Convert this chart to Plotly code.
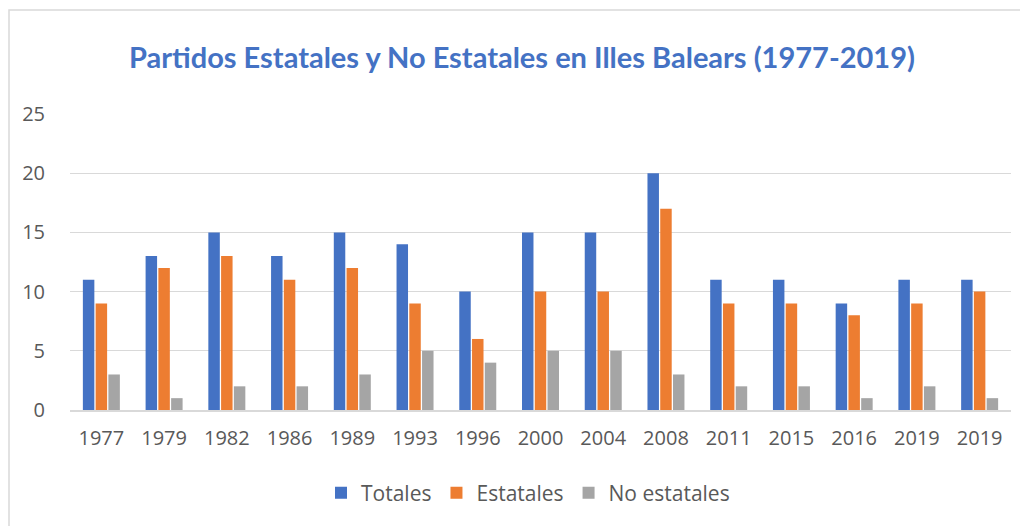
import plotly.graph_objects as go

years = ["1977", "1979", "1982", "1986", "1989", "1993", "1996", "2000",
         "2004", "2008", "2011", "2015", "2016", "2019", "2019"]
totales = [11, 13, 15, 13, 15, 14, 10, 15, 15, 20, 11, 11, 9, 11, 11]
estatales = [9, 12, 13, 11, 12, 9, 6, 10, 10, 17, 9, 9, 8, 9, 10]
no_estatales = [3, 1, 2, 2, 3, 5, 4, 5, 5, 3, 2, 2, 1, 2, 1]

# "2019" aparece dos veces: posiciones numéricas para no fusionar categorías
pos = list(range(len(years)))

W, H = 1028, 526
OFF = 8  # margen del body en la página
L, R, T, B = 70 - OFF, 1028 + OFF - 1011, 114 - OFF, 526 - (410 - OFF)
pw, ph = W - L - R, H - T - B

fig = go.Figure()
for name, vals, color in [
    ("Totales", totales, "#4472C4"),
    ("Estatales", estatales, "#ED7D31"),
    ("No estatales", no_estatales, "#A5A5A5"),
]:
    fig.add_trace(go.Bar(x=pos, y=vals, name=name,
                         marker=dict(color=color, line=dict(width=0))))

# marco exterior del gráfico
fig.add_shape(type="rect", xref="paper", yref="paper",
              x0=(1 - L) / pw, x1=(W + 5 - L) / pw,
              y0=(H - B - (H + 5)) / ph, y1=(H - B - (10 - OFF)) / ph,
              line=dict(color="#D9D9D9", width=1.5), fillcolor="rgba(0,0,0,0)")

fig.update_layout(
    width=W, height=H,
    margin=dict(l=L, r=R, t=T, b=B),
    paper_bgcolor="white", plot_bgcolor="white",
    barmode="group", bargap=0.39, bargroupgap=0.1,
    font=dict(family="Open Sans, sans-serif", color="#595959", size=20),
    title=dict(text="<b>Partidos Estatales y No Estatales en Illes Balears (1977-2019)</b>",
               x=(522 - OFF) / W, xanchor="center", y=1 - (58 - OFF) / H, yanchor="middle",
               font=dict(family="Lato, sans-serif", size=29, color="#4472C4")),
    xaxis=dict(tickvals=pos, ticktext=years, range=[-0.5, len(years) - 0.5],
               showgrid=False, showline=True, linecolor="#D9D9D9", linewidth=1.5,
               ticks="", ticklabelstandoff=9, tickfont=dict(size=20)),
    yaxis=dict(range=[0, 25], dtick=5, showgrid=True, gridcolor="#D9D9D9",
               gridwidth=1.2, zeroline=False, showline=False,
               ticklabelstandoff=24, tickfont=dict(size=20)),
    legend=dict(orientation="h", x=(528 - OFF - L) / pw, xanchor="center",
                y=-(493 - 410) / ph, yanchor="middle",
                font=dict(size=21), itemwidth=30, traceorder="normal"),
    showlegend=True,
)

fig.write_html("out.html")
